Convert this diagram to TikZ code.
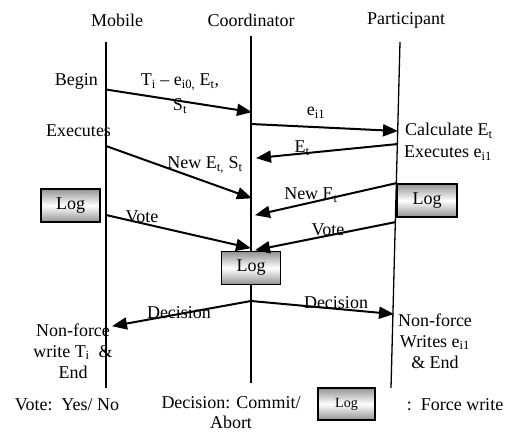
\documentclass[tikz,border=0pt]{standalone}
\usepackage{fontspec}
\setmainfont{Liberation Serif}
\usetikzlibrary{arrows.meta}
\begin{document}
\begin{tikzpicture}[x=1pt,y=-1pt,
  every node/.style={font=\fontsize{18}{21}\selectfont, inner sep=0pt},
  life/.style={line width=1.3pt},
  msg/.style={line width=2pt, -{Triangle[length=15pt,width=12pt]}, shorten >=-1pt},
  logbox/.style={draw=black, line width=1.8pt, minimum width=59pt, minimum height=33pt,
    top color=gray!85, bottom color=gray!85, middle color=white},
  lbl/.style={align=center},
]
\useasboundingbox (0,0) rectangle (509,433);
% headers
\node (mob) at (117,20) {Mobile};
\node (coo) at (251,20) {Coordinator};
\node (par) at (406,20) {Participant};
% lifelines
\coordinate (mt) at (106,42); \coordinate (mb) at (106,388);
\coordinate (ct) at (251,36); \coordinate (cb) at (251,383);
\coordinate (pt) at (400,42); \coordinate (pb) at (391,388);
\node[logbox] (clog) at (251,268) {Log};
\node[logbox] (mlog) at (70.5,205.5) {Log};
\node[logbox, minimum width=60pt] (plog) at (427,200.5) {Log};
\draw[life] (mt) -- (mb);
\draw[life] (ct) -- (clog.north);
\draw[life] (clog.south) -- (cb);
\draw[life] (pt) -- (pb);
% message endpoints
\coordinate (a1s) at (106,89.5); \coordinate (a1e) at (251,112);
\coordinate (a2s) at (251,124);  \coordinate (a2e) at (397,131);
\coordinate (a3s) at (398,144);  \coordinate (a3e) at (257,158);
\coordinate (a4s) at (106,146);  \coordinate (a4e) at (251,198);
\coordinate (a5s) at (397,183);  \coordinate (a5e) at (256,215);
\coordinate (a6s) at (106,215);  \coordinate (a6e) at (250,248);
\coordinate (a7s) at (396,222);  \coordinate (a7e) at (256,250);
\coordinate (a8s) at (251,301);  \coordinate (a8e) at (113,326);
\coordinate (a9e) at (393,314);
\draw[msg] (a1s) -- (a1e);
\draw[msg] (a2s) -- (a2e);
\draw[msg] (a3s) -- (a3e);
\draw[msg] (a4s) -- (a4e);
\draw[msg] (a5s) -- (a5e);
\draw[msg] (a6s) -- (a6e);
\draw[msg] (a7s) -- (a7e);
\draw[msg] (a8s) -- (a8e);
\draw[msg] (a8s) -- (a9e);
% labels
\node[anchor=east] (lbegin) at (98,81) {Begin};
\node (lti) at (180,82) {T\textsubscript{i} -- e\textsubscript{i0,} E\textsubscript{t},};
\node (lst) at (180,106) {S\textsubscript{t}};
\node (lei1) at (316,113) {e\textsubscript{i1}};
\node[anchor=west] (lcalc) at (405,131) {Calculate E\textsubscript{t}};
\node[anchor=west] (lexp) at (404,153) {Executes e\textsubscript{i1}};
\node (lexm) at (78.5,131) {Executes};
\node (let) at (302,148) {E\textsubscript{t}};
\node (lnews) at (205,165) {New E\textsubscript{t,} S\textsubscript{t}};
\node (lnewe) at (311,195) {New E\textsubscript{t}};
\node (lvm) at (142,217) {Vote};
\node (lvp) at (328,230) {Vote};
\node (ldl) at (179,313) {Decision};
\node (ldr) at (336,303) {Decision};
\node[lbl] (lnfm) at (73,351) {Non-force\\write T\textsubscript{i}~~\&\\End};
\node[lbl] (lnfp) at (435,341) {Non-force\\Writes e\textsubscript{i1}\\\& End};
% legend
\node (legv) at (67,405) {Vote:~~Yes/ No};
\node[lbl, font=\fontsize{18}{20}\selectfont] (legd) at (231,413) {Decision: Commit/\\Abort};
\node[logbox, minimum width=57pt, minimum height=32pt, line width=1.5pt,
  font=\fontsize{14}{16}\selectfont] (leglog) at (346.5,404) {Log};
\node (legf) at (455,405) {:~~Force write};
\end{tikzpicture}
\end{document}
